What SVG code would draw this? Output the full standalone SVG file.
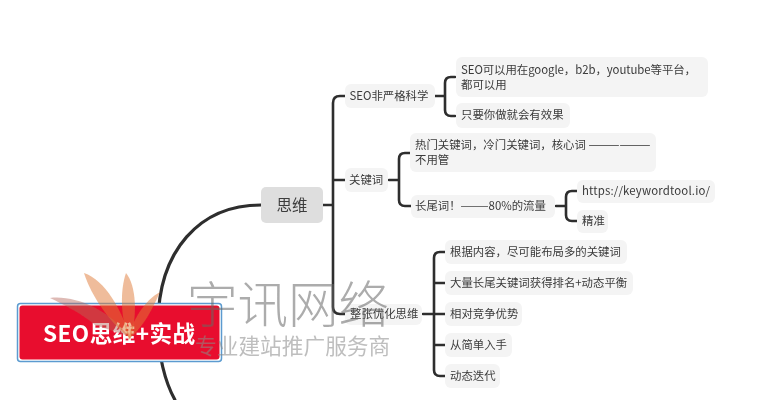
<svg xmlns="http://www.w3.org/2000/svg" width="767" height="400" viewBox="0 0 767 400">
<style>
text{font-family:"Noto Sans CJK SC","Noto Sans",sans-serif}
.c{fill:none;stroke:#2e2e2e;stroke-linecap:round}
.t1{stroke-width:3.2}
.t2{stroke-width:2.6}
.n{fill:#f4f4f4}
.l{font-size:11.4px;fill:#3a3a3a}
.m{dominant-baseline:central;transform:translateY(-.6px)}
</style>
<defs><filter id="b" x="-5%" y="-5%" width="110%" height="110%"><feGaussianBlur stdDeviation="0.35"/></filter></defs>
<rect width="767" height="400" fill="#fff"/>
<g filter="url(#b)">
<g id="connectors">
<path class="c t1" d="M261,205 C200,205 158,250 158,325 C158,355 165,382 175,400"/>
<path class="c t2" d="M323,205H333M345,96H340Q333,96 333,103V307Q333,314 340,314H345M333,180H345"/>
<path class="c t2" d="M435,96H445M455,77H451Q445,77 445,83V110Q445,116 451,116H455"/>
<path class="c t2" d="M389,180H399M410,153H405Q399,153 399,159V200Q399,206 405,206H411"/>
<path class="c t2" d="M556,206H566M577,191H572Q566,191 566,197V215Q566,221 572,221H577"/>
<path class="c t2" d="M423,314H434M445,252H440Q434,252 434,258V370Q434,376 440,376H445M434,283H445M434,314H445M434,345H445"/>
</g>
<g id="n-siwei"><rect x="261" y="187" width="62" height="36" rx="5" fill="#dedede"/><text x="292" y="205" font-size="15.5" fill="#3c3c3c" text-anchor="middle" class="m">思维</text></g>
<g id="n-seo"><rect class="n" x="345" y="84" width="90" height="24" rx="6"/><text class="l m" x="349.500" y="96">SEO非严格科学</text></g>
<g id="n-seo-1"><rect class="n" x="456" y="57" width="252" height="40" rx="6"/><text class="l" x="461" y="73.500" textLength="235">SEO可以用在google，b2b，youtube等平台，</text><text class="l" x="461" y="88.500">都可以用</text></g>
<g id="n-seo-2"><rect class="n" x="456" y="103" width="114" height="25" rx="6"/><text class="l m" x="461" y="115">只要你做就会有效果</text></g>
<g id="n-kw"><rect class="n" x="345" y="168" width="43" height="24" rx="6"/><text class="l m" x="349" y="180">关键词</text></g>
<g id="n-kw-1"><rect class="n" x="410" y="133" width="246" height="39" rx="6"/><text class="l" x="415" y="149">热门关键词，冷门关键词，核心词 <tspan font-size="12.600">——————</tspan></text><text class="l" x="415" y="164">不用管</text></g>
<g id="n-kw-2"><rect class="n" x="411" y="195" width="144" height="23" rx="6"/><text class="l m" x="415" y="206">长尾词！———80%的流量</text></g>
<g id="n-url"><rect class="n" x="577" y="180" width="138" height="23" rx="6"/><text class="l m" x="582" y="191" textLength="128">https://keywordtool.io/</text></g>
<g id="n-jz"><rect class="n" x="577" y="210" width="31" height="23" rx="6"/><text class="l m" x="582" y="221">精准</text></g>
<g id="n-whole"><rect class="n" x="345" y="304" width="77" height="21" rx="6"/><text class="l m" x="350" y="314">整张优化思维</text></g>
<g id="n-w1"><rect class="n" x="445" y="240" width="182" height="24" rx="6"/><text class="l m" x="450" y="252">根据内容，尽可能布局多的关键词</text></g>
<g id="n-w2"><rect class="n" x="445" y="271" width="188" height="24" rx="6"/><text class="l m" x="450" y="283">大量长尾关键词获得排名+动态平衡</text></g>
<g id="n-w3"><rect class="n" x="445" y="302" width="77" height="24" rx="6"/><text class="l m" x="450" y="314">相对竞争优势</text></g>
<g id="n-w4"><rect class="n" x="445" y="333" width="67" height="24" rx="6"/><text class="l m" x="450" y="345">从简单入手</text></g>
<g id="n-w5"><rect class="n" x="445" y="364" width="55" height="24" rx="6"/><text class="l m" x="450" y="376">动态迭代</text></g>
<g id="n-root"><rect x="17.500" y="303.500" width="204" height="58" rx="3" fill="#fff" stroke="#5b9bd0" stroke-width="1.500"/><rect x="19.500" y="305.500" width="200" height="54" rx="3" fill="#e8112d"/><text x="119" y="333" font-size="22.500" font-weight="700" fill="#fff" text-anchor="middle" class="m" textLength="152">SEO思维+实战</text></g>
<g id="watermark">
<path d="M50,298C75,295 110,310 128,336L95,325C80,312 62,304 50,298Z" fill="#b5655a" fill-opacity=".45"/>
<path d="M84,273C105,280 122,310 130,338C112,325 92,298 84,273Z" fill="#e07a35" fill-opacity=".5"/>
<path d="M126,273C136,285 138,315 130,340C120,320 120,290 126,273Z" fill="#e07a35" fill-opacity=".5"/>
<path d="M160,292C150,315 140,330 128,340C132,320 145,300 160,292Z" fill="#e07a35" fill-opacity=".5"/>
<text x="187" y="323" font-size="50.500" font-weight="300" fill="#666" fill-opacity=".55">宇讯网络</text>
<text x="195" y="354" font-size="21.700" fill="#888" fill-opacity=".55">专业建站推广服务商</text>
</g>
</g>
</svg>
